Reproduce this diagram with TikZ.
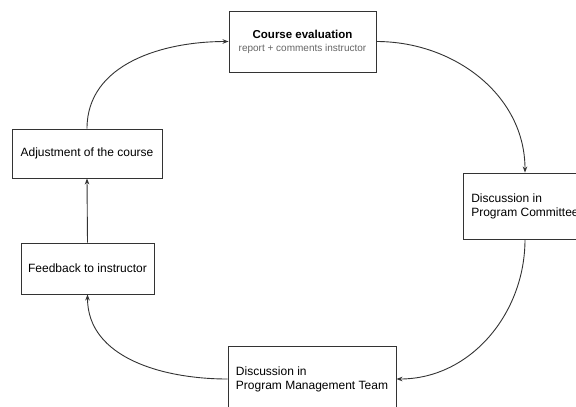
\documentclass[tikz,border=0pt]{standalone}
\usepackage{fontspec}
\setmainfont{Liberation Sans}
\usetikzlibrary{arrows.meta}
\definecolor{linec}{HTML}{333333}
\definecolor{subc}{HTML}{666666}
\tikzset{
  box/.style={draw=linec, line width=0.9pt, fill=white, inner sep=0pt, align=center, font=\fontsize{12}{14}\selectfont},
  lbox/.style={box, align=left},
  conn/.style={draw=linec, line width=0.9pt, -{Stealth[length=6pt,width=4.5pt]}}
}
\begin{document}
\begin{tikzpicture}[x=1pt,y=-1pt]
\useasboundingbox (0,0) rectangle (576,407);
\clip (0,0) rectangle (576,407);
\fill[white] (0,0) rectangle (576,407);
\node[box, minimum width=147pt, minimum height=61pt] (ce) at (302.5,41.5)
  {{\fontsize{11.5}{13}\selectfont\bfseries Course evaluation}\\[-1pt]{\fontsize{10}{12}\selectfont\color{subc}report + comments instructor}};
\node[lbox, minimum width=124pt, minimum height=66pt] (pc) at (525,206)
  {Discussion in\\Program Committee};
\node[lbox, minimum width=168pt, minimum height=66pt] (mt) at (312,379)
  {Discussion in\\Program Management Team};
\node[box, minimum width=133pt, minimum height=51pt] (fb) at (87.5,268.5)
  {Feedback to instructor};
\node[box, minimum width=150pt, minimum height=49pt] (ad) at (87,153.5)
  {Adjustment of the course};
\draw[conn] (ce.east) to[out=0,in=90] (pc.north);
\draw[conn] (pc.south) to[out=-90,in=0] (mt.east);
\draw[conn] (mt.west) to[out=180,in=-90] (fb.south);
\draw[conn] (fb.north) -- (ad.south);
\draw[conn] (ad.north) to[out=90,in=180] (ce.west);
\end{tikzpicture}
\end{document}
